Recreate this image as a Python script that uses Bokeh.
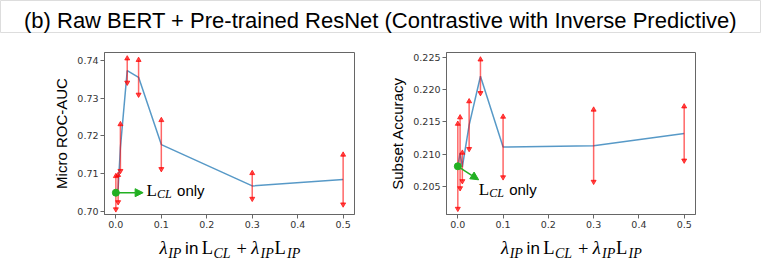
from bokeh.plotting import figure
from bokeh.models import Range1d, FixedTicker, PrintfTickFormatter, Arrow, NormalHead
from bokeh.layouts import column, row
from bokeh.core.properties import value
from bokeh.embed import file_html
from bokeh.resources import INLINE

# ---------------- data ----------------
lam = [0.0, 0.005, 0.01, 0.025, 0.05, 0.1, 0.3, 0.5]
auc_mean = [0.7049, 0.7060, 0.7169, 0.7374, 0.7356, 0.7177, 0.7067, 0.7084]
auc_err = [0.0044, 0.0036, 0.0062, 0.0032, 0.0046, 0.0065, 0.0034, 0.0066]
acc_mean = [0.2081, 0.2102, 0.2080, 0.2145, 0.2221, 0.2111, 0.2113, 0.2132]
acc_err = [0.0066, 0.0055, 0.0022, 0.0037, 0.0026, 0.0047, 0.0056, 0.0042]

x_ticks = [0.0, 0.1, 0.2, 0.3, 0.4, 0.5]
auc_ticks = [0.70, 0.71, 0.72, 0.73, 0.74]
acc_ticks = [0.205, 0.210, 0.215, 0.220, 0.225]

title_text = "(b) Raw BERT + Pre-trained ResNet (Contrastive with Inverse Predictive)"
auc_label = "Micro ROC-AUC"
acc_label = "Subset Accuracy"

SANS = "Liberation Sans"
SERIF = "Liberation Serif"
TICKF = "DejaVu Sans"
BLUE = "#1f77b4"
RED = "#ff0000"
GREEN = "#22b022"

W = 761
TITLE_H = 33
ROW_H = 201
STRIP_H = 28
TEXT_SHIFT = 6  # px: the text glyphs sit this much lower than the anchor


def strip_fig(w, h, outline=None):
    p = figure(width=w, height=h, x_range=Range1d(0, w), y_range=Range1d(h, 0),
               min_border=0, toolbar_location=None, output_backend="svg",
               x_axis_location=None, y_axis_location=None)
    p.xgrid.visible = False
    p.ygrid.visible = False
    p.outline_line_color = outline
    p.background_fill_color = "white"
    p.border_fill_color = "white"
    return p


def pieces_text(p, x0, y0, pieces, uy):
    # pieces: (dx_px, dy_px_down, text, font, size, style); uy = data units per px upward
    for dx, dy, t, f, s, st in pieces:
        p.text(x=[x0], y=[y0 - (dy - TEXT_SHIFT) * uy], text=[t], x_offset=dx,
               text_font=value(f), text_font_size=value(s),
               text_font_style=value(st), text_color="black",
               text_align="left", text_baseline="alphabetic")


def panel(mean, err, yr, ticks, fmt, ylabel, width, mbl, mbr, mbt, mbb, height):
    p = figure(width=width, height=height, x_range=Range1d(-0.025, 0.525),
               y_range=Range1d(*yr), toolbar_location=None, output_backend="svg",
               min_border_left=mbl, min_border_right=mbr,
               min_border_top=mbt, min_border_bottom=mbb)
    p.xgrid.visible = False
    p.ygrid.visible = False
    p.outline_line_color = "#666666"
    p.outline_line_width = 1
    p.xaxis.ticker = FixedTicker(ticks=x_ticks)
    p.xaxis.formatter = PrintfTickFormatter(format="%.1f")
    p.yaxis.ticker = FixedTicker(ticks=ticks)
    p.yaxis.formatter = PrintfTickFormatter(format=fmt)
    for ax in (p.xaxis[0], p.yaxis[0]):
        ax.axis_line_color = "#666666"
        ax.major_tick_line_color = "#666666"
        ax.major_tick_out = 4
        ax.major_tick_in = 0
        ax.minor_tick_out = 0
        ax.minor_tick_in = 0
        ax.major_label_text_font = TICKF
        ax.major_label_text_font_size = "9.5px"
        ax.major_label_text_color = "#333333"
        ax.major_label_standoff = 2
    p.yaxis.axis_label = ylabel
    p.yaxis.axis_label_text_font = SANS
    p.yaxis.axis_label_text_font_size = "15px"
    p.yaxis.axis_label_text_font_style = "normal"
    p.yaxis.axis_label_text_color = "black"
    p.yaxis.axis_label_standoff = 4

    p.line(lam, mean, line_color=BLUE, line_alpha=0.75, line_width=1.5)
    lo = [m - e for m, e in zip(mean, err)]
    hi = [m + e for m, e in zip(mean, err)]
    p.segment(x0=lam, y0=lo, x1=lam, y1=hi, line_color=RED, line_alpha=0.6, line_width=1.5)
    p.scatter(lam, hi, marker="triangle", size=5, fill_color=RED, line_color=RED,
              fill_alpha=0.7, line_alpha=0.7)
    p.scatter(lam, lo, marker="inverted_triangle", size=5, fill_color=RED, line_color=RED,
              fill_alpha=0.7, line_alpha=0.7)
    return p


# ---------------- title ----------------
pt = strip_fig(W, TITLE_H, outline="#dddddd")
pt.text(x=[380], y=[26 - TEXT_SHIFT], text=[title_text], text_font=value(SANS),
        text_font_size=value("22px"), text_color="black",
        text_align="center", text_baseline="alphabetic")

# ---------------- left panel (frame x 104-354, y 52-214) ----------------
yr1 = (0.6991, 0.7422)
p1 = panel(auc_mean, auc_err, yr1, auc_ticks, "%.2f", auc_label,
           386, 104, 32, 19, 20, ROW_H)
uy1 = (yr1[1] - yr1[0]) / 162.0
p1.add_layout(Arrow(end=NormalHead(size=8, fill_color=GREEN, line_color=GREEN),
                    x_start=lam[0], y_start=auc_mean[0], x_end=0.06, y_end=auc_mean[0],
                    line_color=GREEN, line_width=1.5))
p1.scatter([lam[0]], [auc_mean[0]], size=7, fill_color=GREEN, line_color=GREEN)
lcl = [(0, 0, "L", SERIF, "17px", "normal"),
       (10.5, 3, "CL", SERIF, "12px", "italic"),
       (30.5, 0, "only", SANS, "15px", "normal")]
pieces_text(p1, 0.0675, 0.7038, lcl, uy1)

# ---------------- right panel (frame x 446-695, y 52-215) ----------------
yr2 = (0.2006, 0.2258)
p2 = panel(acc_mean, acc_err, yr2, acc_ticks, "%.3f", acc_label,
           W - 386, 60, 66, 19, 19, ROW_H)
uy2 = (yr2[1] - yr2[0]) / 163.0
p2.add_layout(Arrow(end=NormalHead(size=8, fill_color=GREEN, line_color=GREEN),
                    x_start=lam[0], y_start=acc_mean[0], x_end=0.046, y_end=0.2060,
                    line_color=GREEN, line_width=1.5))
p2.scatter([lam[0]], [acc_mean[0]], size=7, fill_color=GREEN, line_color=GREEN)
pieces_text(p2, 0.046, 0.2035, lcl, uy2)

# ---------------- x labels ----------------
ps = strip_fig(W, STRIP_H)
xl = [(0, 0, "λ", SERIF, "18.5px", "italic"),
      (8.7, 5, "IP", SERIF, "14px", "italic"),
      (25.6, 0, "in", SANS, "17px", "normal"),
      (42.3, 0, "L", SERIF, "18.5px", "normal"),
      (54, 5, "CL", SERIF, "14px", "italic"),
      (77, 0, "+", SERIF, "18.5px", "normal"),
      (91.8, 0, "λ", SERIF, "18.5px", "italic"),
      (101, 5, "IP", SERIF, "14px", "italic"),
      (115, 0, "L", SERIF, "18.5px", "normal"),
      (127.5, 5, "IP", SERIF, "14px", "italic")]
# strip y axis points down (px), so uy = -1; strip starts at y = 234
base = 253.5 - (TITLE_H + ROW_H)
pieces_text(ps, 104 + 55, base, xl, -1.0)
pieces_text(ps, 446 + 54.5, base, xl, -1.0)

layout = column(pt, row(p1, p2), ps)
open("out.html", "w").write(file_html(layout, INLINE))
